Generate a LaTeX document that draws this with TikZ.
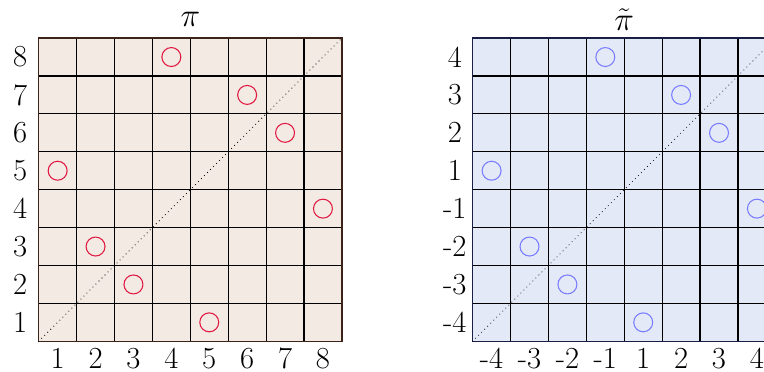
\documentclass[tikz,border=0pt]{standalone}
\definecolor{leftfill}{RGB}{243,234,228}
\definecolor{rightfill}{RGB}{228,233,248}
\definecolor{leftborder}{RGB}{60,35,25}
\definecolor{rightborder}{RGB}{25,30,70}
\definecolor{markred}{RGB}{225,25,65}
\definecolor{markblue}{RGB}{120,125,255}
\tikzset{
  lbl/.style={font=\fontsize{23}{28}\selectfont, inner sep=0pt},
  gridline/.style={line width=0.9pt, black},
  diagline/.style={line width=0.8pt, dash pattern=on 0pt off 3.2pt, line cap=round},
  redmark/.style={draw=markred, line width=0.8pt, circle, minimum size=0.5cm, inner sep=0pt},
  bluemark/.style={draw=markblue, line width=0.8pt, circle, minimum size=0.5cm, inner sep=0pt},
}
\begin{document}
\begin{tikzpicture}
\clip (-1.021,-0.784) rectangle (19.137,9.005);
% left grid
\begin{scope}
  \fill[leftfill] (0,0) rectangle (8,8);
  \draw[gridline] (0,0) grid (8,8);
  \draw[leftborder, line width=1pt] (0,0) rectangle (8,8);
  \coordinate (la) at (0,0);
  \coordinate (lb) at (8,8);
  \draw[diagline] (la) -- (lb);
  \node[lbl] (t1) at (4,8.5) {$\pi$};
  \foreach \i in {1,...,8} {
    \node[lbl] (lx\i) at (\i-0.5,-0.45) {\i};
    \node[lbl] (ly\i) at (-0.49,\i-0.5) {\i};
  }
  \foreach \c/\r in {1/5,2/3,3/2,4/8,5/1,6/7,7/6,8/4}
    \node[redmark] (p\c) at (\c-0.5,\r-0.5) {};
\end{scope}
% right grid
\begin{scope}[xshift=11.45cm]
  \fill[rightfill] (0,0) rectangle (8,8);
  \draw[gridline] (0,0) grid (8,8);
  \draw[rightborder, line width=1pt] (0,0) rectangle (8,8);
  \coordinate (ra) at (0,0);
  \coordinate (rb) at (8,8);
  \draw[diagline] (ra) -- (rb);
  \node[lbl] (t2) at (4,8.5) {$\tilde{\pi}$};
  \foreach \l [count=\k] in {-4,-3,-2,-1,1,2,3,4} {
    \node[lbl] (rx\k) at (\k-0.5,-0.45) {\l};
    \node[lbl] (ry\k) at (-0.47,\k-0.5) {\l};
  }
  \foreach \c/\r in {1/5,2/3,3/2,4/8,5/1,6/7,7/6,8/4}
    \node[bluemark] (q\c) at (\c-0.5,\r-0.5) {};
\end{scope}
\end{tikzpicture}
\end{document}
